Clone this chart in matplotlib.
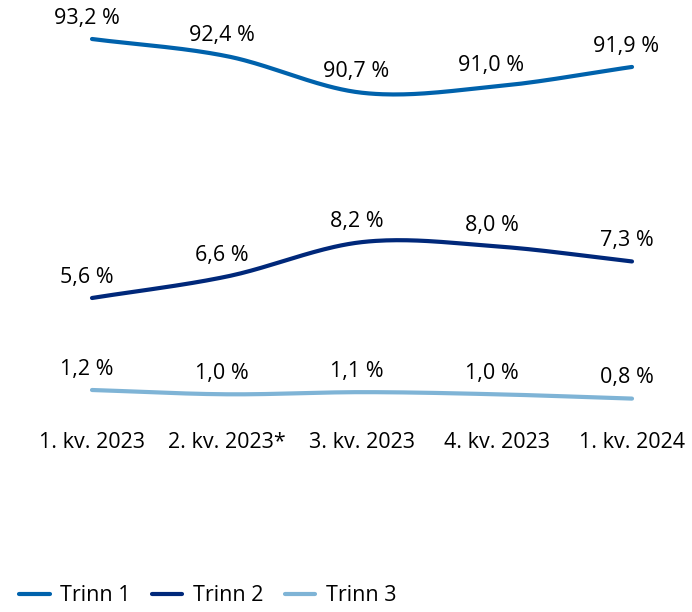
import numpy as np
import matplotlib
matplotlib.use("Agg")
from matplotlib import pyplot as plt

quarters = ["1. kv. 2023", "2. kv. 2023*", "3. kv. 2023", "4. kv. 2023", "1. kv. 2024"]
trinn1 = [93.2, 92.4, 90.7, 91.0, 91.9]
trinn2 = [5.6, 6.6, 8.2, 8.0, 7.3]
trinn3 = [1.2, 1.0, 1.1, 1.0, 0.8]

colors = ["#0062AC", "#00287A", "#7FB4D6"]
names = ["Trinn 1", "Trinn 2", "Trinn 3"]

plt.rcParams["font.family"] = ["Open Sans", "DejaVu Sans"]
FS = 15.5

W, H = 692, 612
PX_PER_UNIT = 21.5  # same vertical scale in every panel
X_LEFT, X_STEP = 92, 135  # pixel of first category, spacing


def smooth(y, n=40):
    """Catmull-Rom style curve through the points (only for drawing)."""
    y = np.asarray(y, dtype=float)
    x = np.arange(len(y), dtype=float)
    m = np.gradient(y, x)
    xs, ys = [], []
    for i in range(len(y) - 1):
        t = np.linspace(0, 1, n)
        h00 = 2 * t**3 - 3 * t**2 + 1
        h10 = t**3 - 2 * t**2 + t
        h01 = -2 * t**3 + 3 * t**2
        h11 = t**3 - t**2
        xs.append(x[i] + t)
        ys.append(h00 * y[i] + h10 * m[i] + h01 * y[i + 1] + h11 * m[i + 1])
    return np.concatenate(xs), np.concatenate(ys)


fig = plt.figure(figsize=(W / 100, H / 100), dpi=100)

# (top px, bottom px, anchor value, anchor px) for each panel
panels = [
    (0, 120, trinn1[0], 39),
    (170, 320, trinn2[0], 298),
    (335, 410, trinn3[0], 390),
]
series = [trinn1, trinn2, trinn3]

axes = []
for (top, bottom, v0, p0), values, color, name in zip(panels, series, colors, names):
    ax = fig.add_axes([0, 1 - bottom / H, 1, (bottom - top) / H])
    ymax = v0 + (p0 - top) / PX_PER_UNIT
    ymin = v0 - (bottom - p0) / PX_PER_UNIT
    ax.set_ylim(ymin, ymax)
    ax.set_xlim(-X_LEFT / X_STEP, (W - X_LEFT) / X_STEP)
    xs, ys = smooth(values)
    ax.plot(xs, ys, color=color, linewidth=3, solid_capstyle="round", label=name)
    for i, v in enumerate(values):
        ax.annotate(f"{v:.1f} %".replace(".", ","), (i, v), xytext=(-4, 15),
                    textcoords="offset points", ha="center", va="center", fontsize=FS)
    ax.set_xticks([])
    ax.set_yticks([])
    for s in ax.spines.values():
        s.set_visible(False)
    ax.patch.set_alpha(0)
    axes.append(ax)

axes[-1].set_xticks(range(len(quarters)))
axes[-1].set_xticklabels(quarters, fontsize=FS)
axes[-1].tick_params(axis="x", length=0, pad=16)

handles = [ax.get_lines()[0] for ax in axes]
fig.legend(handles, names, loc="lower left", bbox_to_anchor=(0.0, -0.022), ncol=3,
           frameon=False, fontsize=FS, handlelength=1.4, handletextpad=0.5, columnspacing=1.0)

plt.savefig("out.png", dpi=100)
plt.close(fig)
